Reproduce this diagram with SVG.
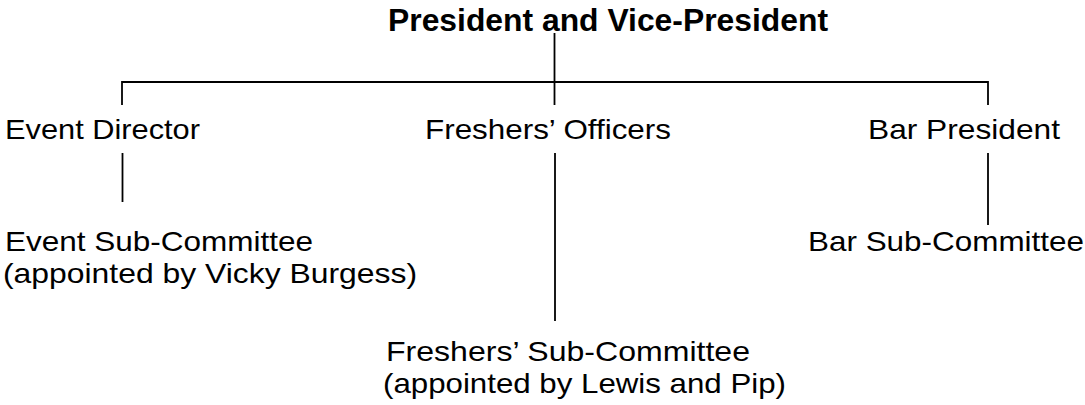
<svg xmlns="http://www.w3.org/2000/svg" width="1085" height="405" viewBox="0 0 1085 405">
<style>
.t{font-family:"Liberation Sans",Arial,sans-serif;font-size:28px;fill:#000}
.b{font-weight:bold;font-size:32px}
.c line{stroke:#000;stroke-width:1.8}
</style>
<rect width="1085" height="405" fill="#fff"/>
<g class="c" id="connectors">
<line x1="554.5" y1="33" x2="554.5" y2="105"/>
<line x1="122" y1="82" x2="988" y2="82"/>
<line x1="122" y1="81" x2="122" y2="105"/>
<line x1="988" y1="81" x2="988" y2="105"/>
<line x1="122.5" y1="153" x2="122.5" y2="202"/>
<line x1="555" y1="153" x2="555" y2="321"/>
<line x1="988" y1="153" x2="988" y2="225"/>
</g>
<g id="president"><text class="t b" x="388" y="31" textLength="440" lengthAdjust="spacingAndGlyphs">President and Vice-President</text></g>
<g id="event-director"><text class="t" x="5" y="139" textLength="195" lengthAdjust="spacingAndGlyphs">Event Director</text></g>
<g id="freshers-officers"><text class="t" x="425" y="139" textLength="246" lengthAdjust="spacingAndGlyphs">Freshers’ Officers</text></g>
<g id="bar-president"><text class="t" x="868" y="139" textLength="192" lengthAdjust="spacingAndGlyphs">Bar President</text></g>
<g id="event-sub"><text class="t" x="5" y="251" textLength="308" lengthAdjust="spacingAndGlyphs">Event Sub-Committee</text><text class="t" x="3" y="283" textLength="414" lengthAdjust="spacingAndGlyphs">(appointed by Vicky Burgess)</text></g>
<g id="bar-sub"><text class="t" x="808" y="251" textLength="276" lengthAdjust="spacingAndGlyphs">Bar Sub-Committee</text></g>
<g id="freshers-sub"><text class="t" x="386" y="361" textLength="364" lengthAdjust="spacingAndGlyphs">Freshers’ Sub-Committee</text><text class="t" x="383" y="393" textLength="403" lengthAdjust="spacingAndGlyphs">(appointed by Lewis and Pip)</text></g>
</svg>
